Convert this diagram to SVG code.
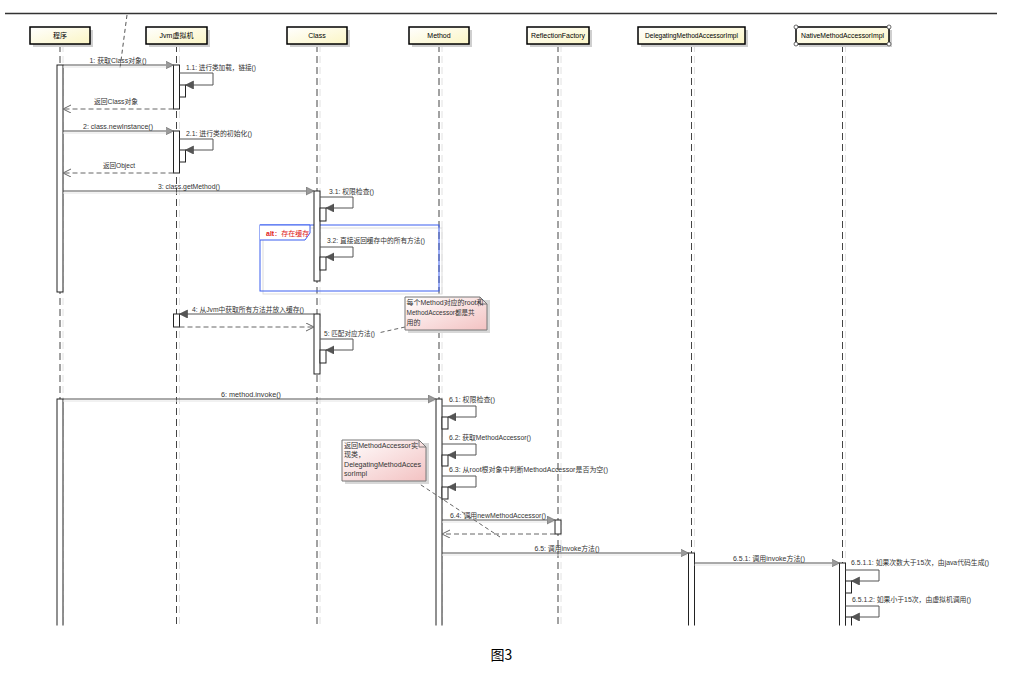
<svg xmlns="http://www.w3.org/2000/svg" width="1021" height="692" viewBox="0 0 1021 692">
<style>
text{font-family:"Liberation Sans","Noto Sans CJK SC",sans-serif;font-size:7px;fill:#333}
.hd{fill:#000}
.ll{stroke:#444;stroke-width:1;stroke-dasharray:7 4;fill:none}
.lls{stroke:#e2e2e2;stroke-width:1;stroke-dasharray:7 4;fill:none}
.box{fill:url(#gy);stroke:#000;stroke-width:1.5}
.sh{fill:#cfcfcf}
.bar{fill:#fff;stroke:#222;stroke-width:1}
.msg{stroke:#555;stroke-width:1;fill:none}
.msgs{stroke:#e4e4e4;stroke-width:1;fill:none}
.ret{stroke:#666;stroke-width:1;stroke-dasharray:5 3;fill:none}
.note{fill:url(#gp);stroke:#777;stroke-width:1}
.nc{stroke:#666;stroke-width:1;stroke-dasharray:4 3;fill:none}
</style>
<defs>
<linearGradient id="gy" x1="0" y1="0" x2="1" y2="1"><stop offset="0" stop-color="#ffffff"/><stop offset="1" stop-color="#fbf5c4"/></linearGradient>
<linearGradient id="gp" x1="0" y1="0" x2="1" y2="1"><stop offset="0" stop-color="#ffffff"/><stop offset="1" stop-color="#f3c2c2"/></linearGradient>
<marker id="sync" markerUnits="userSpaceOnUse" markerWidth="9" markerHeight="9" refX="8" refY="4" orient="auto"><path d="M0,0 L8,4 L0,8 Z" fill="#9a9a9a" stroke="#666" stroke-width="0.6"/></marker>
<marker id="self" markerUnits="userSpaceOnUse" markerWidth="9" markerHeight="9" refX="8" refY="4" orient="auto"><path d="M0,0 L8,4 L0,8 Z" fill="#555" stroke="#444" stroke-width="0.6"/></marker>
<marker id="open" markerUnits="userSpaceOnUse" markerWidth="10" markerHeight="10" refX="8" refY="4" orient="auto"><path d="M0,0 L8,4 L0,8" fill="none" stroke="#666" stroke-width="1"/></marker>
<clipPath id="clip"><rect x="0" y="0" width="1021" height="625.5"/></clipPath>
</defs>
<rect width="1021" height="692" fill="#fff"/>
<line x1="5" y1="13.5" x2="997" y2="13.5" stroke="#333" stroke-width="1.5"/>
<line x1="127" y1="15" x2="120" y2="68" stroke="#555" stroke-width="1" stroke-dasharray="4 3"/>

<g id="lifelines" clip-path="url(#clip)">
<path class="lls" d="M63,45V630M179.5,45V630M320,45V630M442,45V630M561,45V630M694.5,45V630M845.5,45V630"/>
<path class="ll" d="M60,45V630M176.5,45V630M317,45V630M439,45V630M558,45V630M691.5,45V630M842.5,45V630"/>
</g>

<g id="n-chengxu"><rect class="sh" x="33" y="30" width="60" height="17"/><rect class="box" x="30" y="27" width="60" height="17"/><text class="hd" x="60" y="38" text-anchor="middle">程序</text></g>
<g id="n-jvm"><rect class="sh" x="149" y="30" width="61" height="17"/><rect class="box" x="146" y="27" width="61" height="17"/><text class="hd" x="176.5" y="38" text-anchor="middle">Jvm虚拟机</text></g>
<g id="n-class"><rect class="sh" x="290" y="30" width="60" height="17"/><rect class="box" x="287" y="27" width="60" height="17"/><text class="hd" x="317" y="38" text-anchor="middle">Class</text></g>
<g id="n-method"><rect class="sh" x="412" y="30" width="60" height="17"/><rect class="box" x="409" y="27" width="60" height="17"/><text class="hd" x="439" y="38" text-anchor="middle">Method</text></g>
<g id="n-reflectionfactory"><rect class="sh" x="530" y="30" width="62" height="17"/><rect class="box" x="527" y="27" width="62" height="17"/><text class="hd" x="558" y="38" text-anchor="middle" textLength="54" lengthAdjust="spacingAndGlyphs">ReflectionFactory</text></g>
<g id="n-delegating"><rect class="sh" x="641" y="30" width="107" height="17"/><rect class="box" x="638" y="27" width="107" height="17"/><text class="hd" x="691.5" y="38" text-anchor="middle" textLength="93" lengthAdjust="spacingAndGlyphs">DelegatingMethodAccessorImpl</text></g>
<g id="n-native"><rect class="sh" x="799" y="30" width="93" height="17"/><rect class="box" x="796" y="27" width="93" height="17"/><text class="hd" x="842.5" y="38" text-anchor="middle" textLength="83" lengthAdjust="spacingAndGlyphs">NativeMethodAccessorImpl</text>
<g fill="#fff" stroke="#444" stroke-width="0.8"><circle cx="796" cy="27" r="2"/><circle cx="889" cy="27" r="2"/><circle cx="796" cy="44" r="2"/><circle cx="889" cy="44" r="2"/></g></g>

<g id="alt-frame">
<rect x="263" y="228" width="179" height="66" fill="none" stroke="#ddd" stroke-width="1"/>
<rect x="260" y="225" width="179" height="66" fill="none" stroke="#3a5ef0" stroke-width="1"/>
<path d="M260,225 H310 V233 L305,240 H260" fill="#fff" stroke="#3a5ef0" stroke-width="1"/>
<text x="266" y="235.5" style="fill:#e02020"><tspan font-weight="bold">alt</tspan>：存在缓存</text>
</g>

<g id="activations" clip-path="url(#clip)">
<rect class="bar" x="57" y="65" width="6" height="227"/>
<rect class="bar" x="57" y="399" width="6" height="240"/>
<rect class="bar" x="173.5" y="65" width="6" height="44"/>
<rect class="bar" x="179.5" y="85" width="6" height="12"/>
<rect class="bar" x="173.5" y="131" width="6" height="42"/>
<rect class="bar" x="179.5" y="150" width="6" height="12"/>
<rect class="bar" x="173.5" y="314" width="6" height="13"/>
<rect class="bar" x="314" y="191" width="6" height="90"/>
<rect class="bar" x="320" y="208" width="6" height="13"/>
<rect class="bar" x="320" y="257" width="6" height="13"/>
<rect class="bar" x="314" y="314" width="6" height="60"/>
<rect class="bar" x="320" y="350" width="6" height="13"/>
<rect class="bar" x="436" y="399" width="6" height="240"/>
<rect class="bar" x="442" y="417" width="6" height="12"/>
<rect class="bar" x="442" y="455" width="6" height="11"/>
<rect class="bar" x="442" y="487" width="6" height="12"/>
<rect class="bar" x="555" y="520" width="6" height="14"/>
<rect class="bar" x="688.5" y="553" width="6" height="90"/>
<rect class="bar" x="839.5" y="563" width="6" height="80"/>
<rect class="bar" x="845.5" y="581" width="6" height="12"/>
<rect class="bar" x="845.5" y="617" width="6" height="20"/>
</g>

<g id="connectors">
<path class="msgs" d="M63,67H172M63,133H172M63,193H313M63,401H435M442,522H554M442,555H687M694.5,565H838"/>
<path class="msg" d="M63,65H173.5" marker-end="url(#sync)"/>
<path class="msg" d="M179.5,73H213V85H185.5" marker-end="url(#self)"/>
<path class="ret" d="M173.5,109H63" marker-end="url(#open)"/>
<path class="msg" d="M63,131H173.5" marker-end="url(#sync)"/>
<path class="msg" d="M179.5,139H213V150H185.5" marker-end="url(#self)"/>
<path class="ret" d="M173.5,173H63" marker-end="url(#open)"/>
<path class="msg" d="M63,191H314" marker-end="url(#sync)"/>
<path class="msg" d="M320,197H353V208H326" marker-end="url(#self)"/>
<path class="msg" d="M320,247H353V257H326" marker-end="url(#self)"/>
<path class="msg" d="M314,314H179.5" marker-end="url(#self)"/>
<path class="ret" d="M179.5,327H314" marker-end="url(#open)"/>
<path class="msg" d="M320,339H353V350H326" marker-end="url(#self)"/>
<path class="msg" d="M63,399H436" marker-end="url(#sync)"/>
<path class="msg" d="M442,406H476V417H448" marker-end="url(#self)"/>
<path class="msg" d="M442,444H476V455H448" marker-end="url(#self)"/>
<path class="msg" d="M442,476H476V487H448" marker-end="url(#self)"/>
<path class="msg" d="M442,520H555" marker-end="url(#sync)"/>
<path class="ret" d="M555,534H442" marker-end="url(#open)"/>
<path class="msg" d="M442,553H688.5" marker-end="url(#sync)"/>
<path class="msg" d="M694.5,563H839.5" marker-end="url(#sync)"/>
<path class="msg" d="M845.5,570H879V581H851.5" marker-end="url(#self)"/>
<path class="msg" d="M845.5,606H879V617H851.5" marker-end="url(#self)"/>
<path class="nc" d="M405,327L378,333"/>
<path class="nc" d="M415,481L500,537"/>
</g>

<g id="labels">
<text x="118" y="63" text-anchor="middle" textLength="57" lengthAdjust="spacingAndGlyphs">1: 获取Class对象()</text>
<text x="186" y="70" textLength="70" lengthAdjust="spacingAndGlyphs">1.1: 进行类加载，链接()</text>
<text x="116" y="104" text-anchor="middle" textLength="44" lengthAdjust="spacingAndGlyphs">返回Class对象</text>
<text x="118" y="129" text-anchor="middle" textLength="70" lengthAdjust="spacingAndGlyphs">2: class.newInstance()</text>
<text x="186" y="136" textLength="66" lengthAdjust="spacingAndGlyphs">2.1: 进行类的初始化()</text>
<text x="119" y="168" text-anchor="middle" textLength="32" lengthAdjust="spacingAndGlyphs">返回Object</text>
<text x="189" y="189" text-anchor="middle" textLength="62" lengthAdjust="spacingAndGlyphs">3: class.getMethod()</text>
<text x="329" y="194" textLength="45" lengthAdjust="spacingAndGlyphs">3.1: 权限检查()</text>
<text x="327" y="243" textLength="98" lengthAdjust="spacingAndGlyphs">3.2: 直接返回缓存中的所有方法()</text>
<text x="248" y="312" text-anchor="middle" textLength="112" lengthAdjust="spacingAndGlyphs">4: 从Jvm中获取所有方法并放入缓存()</text>
<text x="324" y="336" textLength="51" lengthAdjust="spacingAndGlyphs">5: 匹配对应方法()</text>
<text x="251" y="397" text-anchor="middle" textLength="60" lengthAdjust="spacingAndGlyphs">6: method.invoke()</text>
<text x="449" y="402" textLength="46" lengthAdjust="spacingAndGlyphs">6.1: 权限检查()</text>
<text x="449" y="440" textLength="82" lengthAdjust="spacingAndGlyphs">6.2: 获取MethodAccessor()</text>
<text x="449" y="472" textLength="159" lengthAdjust="spacingAndGlyphs">6.3: 从root根对象中判断MethodAccessor是否为空()</text>
<text x="450" y="518" textLength="96" lengthAdjust="spacingAndGlyphs">6.4: 调用newMethodAccessor()</text>
<text x="567" y="551" text-anchor="middle" textLength="65" lengthAdjust="spacingAndGlyphs">6.5: 调用invoke方法()</text>
<text x="769" y="561" text-anchor="middle" textLength="72" lengthAdjust="spacingAndGlyphs">6.5.1: 调用invoke方法()</text>
<text x="851" y="565" textLength="138" lengthAdjust="spacingAndGlyphs">6.5.1.1: 如果次数大于15次，由java代码生成()</text>
<text x="852" y="602" textLength="119" lengthAdjust="spacingAndGlyphs">6.5.1.2: 如果小于15次，由虚拟机调用()</text>
</g>

<g id="note-root">
<path d="M408,300H490V333H408Z" fill="#d8d8d8"/>
<path class="note" d="M405,297H480L487,304V330H405Z"/>
<path d="M480,297V304H487" fill="none" stroke="#777" stroke-width="1"/>
<text x="406.5" y="305" textLength="77" lengthAdjust="spacingAndGlyphs">每个Method对应的root和</text>
<text x="406.5" y="315" textLength="68" lengthAdjust="spacingAndGlyphs">MethodAccessor都是共</text>
<text x="406.5" y="324.5">用的</text>
</g>

<g id="note-delegating">
<path d="M345,443H429V484H345Z" fill="#d8d8d8"/>
<path class="note" d="M342,440H419L426,447V481H342Z"/>
<path d="M419,440V447H426" fill="none" stroke="#777" stroke-width="1"/>
<text x="344" y="448" textLength="74" lengthAdjust="spacingAndGlyphs">返回MethodAccessor实</text>
<text x="344" y="457">现类，</text>
<text x="344" y="466.5" textLength="77" lengthAdjust="spacingAndGlyphs">DelegatingMethodAcces</text>
<text x="344" y="475.5">sorImpl</text>
</g>

<text x="501.5" y="660" text-anchor="middle" style="font-size:14px;fill:#000;font-family:'Noto Sans CJK SC','Liberation Sans',sans-serif">图3</text>
</svg>
